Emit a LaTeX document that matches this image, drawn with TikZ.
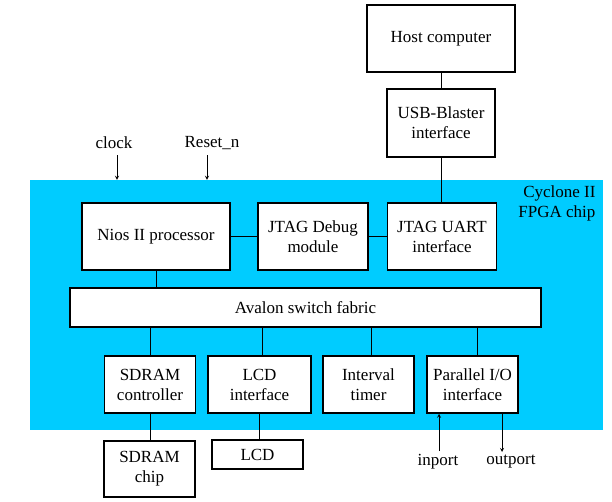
\documentclass[tikz,border=0pt]{standalone}
\usepackage{fontspec}
\setmainfont{Liberation Serif}
\usetikzlibrary{calc}
\definecolor{chipblue}{RGB}{0,204,255}

\begin{document}
\begin{tikzpicture}[>=stealth, x=1pt, y=-1pt,
    font=\fontsize{17}{20}\selectfont,
    block/.style={draw, line width=1.5pt, fill=white, align=center, inner sep=0pt},
    wire/.style={line width=0.8pt}
  ]
    \useasboundingbox (0,0) rectangle (612,501);

    % chip area
    \node[fill=chipblue, minimum width=573pt, minimum height=250pt, inner sep=0pt] (fpga) at (316.5,305) {};
    \node[anchor=north east, align=right] (chipname) at (599,182) {Cyclone II\\FPGA chip};

    % blocks
    \node[block, minimum width=148pt, minimum height=67pt] (host)   at (441,38.5)  {Host computer};
    \node[block, minimum width=108pt, minimum height=68pt] (usb)    at (441,123)   {USB-Blaster\\interface};
    \node[block, minimum width=148pt, minimum height=67pt] (nios)   at (156,236.5) {Nios II processor};
    \node[block, minimum width=110pt, minimum height=67pt] (debug)  at (313,236.5) {JTAG Debug\\module};
    \node[block, minimum width=109pt, minimum height=67pt] (uart)   at (442,236.5) {JTAG UART\\interface};
    \node[block, minimum width=471pt, minimum height=39pt] (avalon) at (305.5,307.5) {Avalon switch fabric};
    \node[block, minimum width=91pt,  minimum height=57pt] (sdramc) at (150,384.5) {SDRAM\\controller};
    \node[block, minimum width=103pt, minimum height=57pt] (lcdif)  at (259.5,384.5) {LCD\\interface};
    \node[block, minimum width=91pt,  minimum height=57pt] (timer)  at (368.5,384.5) {Interval\\timer};
    \node[block, minimum width=91pt,  minimum height=57pt] (pio)    at (472.5,384.5) {Parallel I/O\\interface};
    \node[block, minimum width=91pt,  minimum height=56pt] (chip)   at (149.5,469) {SDRAM\\chip};
    \node[block, minimum width=91pt,  minimum height=29pt] (lcd)    at (257.5,454.5) {LCD};

    % signals
    \node (clk)     at (114,143) {clock};
    \node (rst)     at (212,143) {Reset\_n};
    \node (inport)  at (438,462) {inport};
    \node (outport) at (511,462) {outport};
    \coordinate (clkin) at (117,155);
    \coordinate (rstin) at (207,155);
    \coordinate (outend) at (502,452);

    \path[wire] (host)   edge (usb)
          (usb.south)    edge (usb.south |- uart.north)
          (nios)         edge (debug)
          (debug)        edge (uart)
          (nios)         edge (nios |- avalon.north)
          (sdramc.north) edge (sdramc.north |- avalon.south)
          ($(lcdif.north)+(3,0)$) edge ($(lcdif.north |- avalon.south)+(3,0)$)
          ($(timer.north)+(3,0)$) edge ($(timer.north |- avalon.south)+(3,0)$)
          ($(pio.north)+(5,0)$)   edge ($(pio.north |- avalon.south)+(5,0)$)
          (sdramc.south) edge (sdramc.south |- chip.north)
          (lcdif.south)  edge (lcdif.south |- lcd.north)
          (clkin)        edge[->] (clkin |- fpga.north)
          (rstin)        edge[->] (rstin |- fpga.north)
          ($(inport.north)+(1,0)$) edge[->] ($(inport.north |- pio.south)+(1,0)$)
          (outend |- pio.south) edge[->] (outend);
\end{tikzpicture}
\end{document}
